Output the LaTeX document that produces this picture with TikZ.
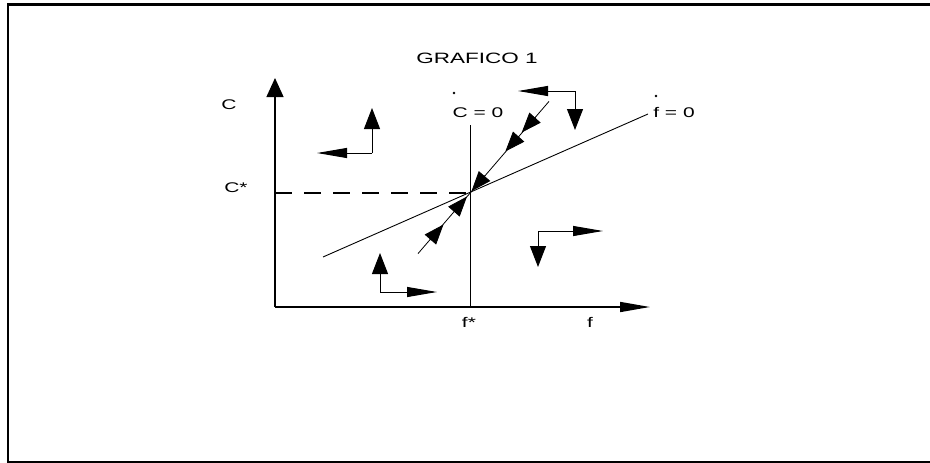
\documentclass[tikz,border=0pt]{standalone}
\usepackage{fontspec}
\setmainfont{Liberation Sans}[FakeStretch=1.5]
\usetikzlibrary{arrows.meta,calc}
\begin{document}
\begin{tikzpicture}[x=1pt,y=-1pt,
  lbl/.style={font=\fontsize{14}{16}\selectfont, inner sep=0pt},
  ttl/.style={font=\fontsize{15}{17}\selectfont, inner sep=0pt},
  vhead/.style={-{Triangle[length=21pt,width=16pt]}},
  hhead/.style={-{Triangle[length=30pt,width=10pt]}},
  shead/.style={-{Triangle[length=20pt,width=15pt]}},
  dirline/.style={line width=1pt}]
\useasboundingbox (0,0) rectangle (930,463);
% frame
\draw[line width=2.5pt] (931,4.5) -- (8,4.5) -- (8,461.8) -- (931,461.8);
% key points
\coordinate (O) at (275,307);
\coordinate (Ytip) at (275,78);
\coordinate (Xtip) at (650,307);
\coordinate (E) at (470,193);
\coordinate (Etop) at (470,125);
\coordinate (Ebot) at (470,307);
\coordinate (Cs) at (275,193);
\coordinate (F1) at (323,257);
\coordinate (F2) at (648,114);
\coordinate (S1) at (418,253.6);
\coordinate (S2) at (549,101.4);
% axes
\draw[line width=1.3pt, -{Triangle[length=19pt,width=17pt]}] (O) -- (Ytip);
\draw[line width=1.6pt, -{Triangle[length=30pt,width=10pt]}] (O) -- (Xtip);
% loci
\draw[line width=1pt] (Ebot) -- (Etop);
\draw[line width=1.5pt, dash pattern=on 17pt off 12pt] (Cs) -- (E);
\draw[line width=0.9pt] (F1) -- (F2);
\draw[line width=0.8pt] (S1) -- (S2);
% saddle path arrows
\coordinate (u1b) at (535.6,117.0); \coordinate (u1t) at (521.7,132.5);
\coordinate (u2b) at (518.3,137.0); \coordinate (u2t) at (505.3,151.5);
\coordinate (u3b) at (485.0,175.5); \coordinate (u3t) at (471.5,191.2);
\coordinate (l1b) at (454.0,211.5); \coordinate (l1t) at (467.0,196.5);
\coordinate (l2b) at (430.0,240.0); \coordinate (l2t) at (443.5,224.5);
\draw[line width=0.8pt, shead] (u1b) -- (u1t);
\draw[line width=0.8pt, shead] (u2b) -- (u2t);
\draw[line width=0.8pt, shead] (u3b) -- (u3t);
\draw[line width=0.8pt, shead] (l1b) -- (l1t);
\draw[line width=0.8pt, shead] (l2b) -- (l2t);
% direction pairs
\coordinate (A) at (372,153); \coordinate (Au) at (372,108); \coordinate (Al) at (317,153);
\draw[dirline, vhead] (A) -- (Au);
\draw[dirline, hhead] (A) -- (Al);
\coordinate (B) at (575,91); \coordinate (Bl) at (518,91); \coordinate (Bd) at (575,130);
\draw[dirline, hhead] (B) -- (Bl);
\draw[dirline, vhead] (B) -- (Bd);
\coordinate (D) at (538,231); \coordinate (Dr) at (603,231); \coordinate (Dd) at (538,267);
\draw[dirline, hhead] (D) -- (Dr);
\draw[dirline, vhead] (D) -- (Dd);
\coordinate (G) at (380,292); \coordinate (Gu) at (380,253); \coordinate (Gr) at (437,292);
\draw[dirline, vhead] (G) -- (Gu);
\draw[dirline, hhead] (G) -- (Gr);
% labels
\node[ttl] (title) at (477,58) {GRAFICO 1};
\node[lbl] (lC) at (229,105) {C};
\node[lbl] (lCs) at (236,188) {C*};
\node[lbl] (lCdot) at (478,113) {C = 0};
\node[lbl] (lfdot) at (674,113) {f = 0};
\node[lbl] (lfs) at (469,322) {f*};
\node[lbl] (lf) at (590,322) {f};
\fill (454,93) circle (1.3pt);
\fill (656,96) circle (1.3pt);
\end{tikzpicture}
\end{document}
